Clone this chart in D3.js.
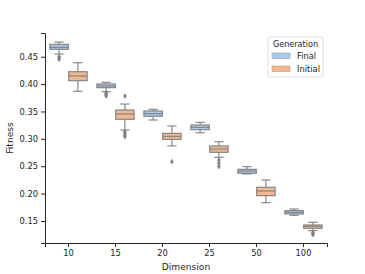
<!DOCTYPE html>
<html>
<head>
<meta charset="utf-8">
<script src="https://cdn.jsdelivr.net/npm/d3@7"></script>
<style>
  body { margin: 0; background: #fff; }
  svg { display: block; font-family: "DejaVu Sans", sans-serif; }
</style>
</head>
<body>
<svg id="chart" width="365" height="274"></svg>
<script>
const dims = ["10", "15", "20", "25", "50", "100"];
const generations = ["Final", "Initial"];
const yTicks = [0.15, 0.20, 0.25, 0.30, 0.35, 0.40, 0.45];

// box stats per dimension: lower whisker, q1, median, q3, upper whisker
const finalLow  = [0.4549, 0.3861, 0.3344, 0.3112, 0.2359, 0.1604];
const finalQ1   = [0.4635, 0.3934, 0.3412, 0.3167, 0.2371, 0.1628];
const finalMed  = [0.4672, 0.3965, 0.3459, 0.3211, 0.2413, 0.1659];
const finalQ3   = [0.4726, 0.4002, 0.3509, 0.3253, 0.2444, 0.1688];
const finalHigh = [0.4768, 0.4033, 0.3540, 0.3302, 0.2492, 0.1719];

const initialLow  = [0.3868, 0.3162, 0.2870, 0.2663, 0.1834, 0.1323];
const initialQ1   = [0.4062, 0.3357, 0.2991, 0.2754, 0.1962, 0.1366];
const initialMed  = [0.4148, 0.3454, 0.3046, 0.2815, 0.2048, 0.1403];
const initialQ3   = [0.4226, 0.3527, 0.3101, 0.2870, 0.2116, 0.1427];
const initialHigh = [0.4390, 0.3636, 0.3235, 0.2948, 0.2249, 0.1476];

// fliers per dimension
const finalOutliers = [
  [0.4500, 0.4476, 0.4453], [0.3840, 0.3820, 0.3800, 0.3782], [], [], [], []
];
const initialOutliers = [
  [], [0.3782, 0.3130, 0.3100, 0.3070, 0.3040], [0.2583], [0.2614, 0.2554, 0.2493], [], [0.1290, 0.1270, 0.1250]
];

const colors = { Final: "#acc9ea", Initial: "#efb792" };
const lineColor = "#7f7f7f";
const textColor = "#262626";

const boxes = [];
dims.forEach((d, i) => {
  boxes.push({ dim: d, gen: "Final", low: finalLow[i], q1: finalQ1[i], med: finalMed[i], q3: finalQ3[i], high: finalHigh[i], out: finalOutliers[i] });
  boxes.push({ dim: d, gen: "Initial", low: initialLow[i], q1: initialQ1[i], med: initialMed[i], q3: initialQ3[i], high: initialHigh[i], out: initialOutliers[i] });
});

const svg = d3.select("#chart");
const plotLeft = 45, plotRight = 327, plotTop = 33, plotBottom = 243;

const x = d3.scaleBand()
  .domain(dims)
  .range([plotLeft, plotRight])
  .paddingInner(0.2)
  .paddingOuter(0.1);

const x1 = d3.scaleBand()
  .domain(generations)
  .range([0, x.bandwidth()]);

const y = d3.scaleLinear()
  .domain([0.1098, 0.4933])
  .range([plotBottom, plotTop]);

// boxes
const g = svg.append("g");
const bw = x1.bandwidth() * 0.98;

boxes.forEach(b => {
  const cx = x(b.dim) + x1(b.gen) + x1.bandwidth() / 2;
  const grp = g.append("g");
  // whiskers
  grp.append("line").attr("x1", cx).attr("x2", cx).attr("y1", y(b.q3)).attr("y2", y(b.high))
    .attr("stroke", lineColor).attr("stroke-width", 1.1);
  grp.append("line").attr("x1", cx).attr("x2", cx).attr("y1", y(b.q1)).attr("y2", y(b.low))
    .attr("stroke", lineColor).attr("stroke-width", 1.1);
  // caps
  [b.low, b.high].forEach(v => {
    grp.append("line").attr("x1", cx - bw / 4).attr("x2", cx + bw / 4).attr("y1", y(v)).attr("y2", y(v))
      .attr("stroke", lineColor).attr("stroke-width", 1.1);
  });
  // box
  grp.append("rect")
    .attr("x", cx - bw / 2)
    .attr("width", bw)
    .attr("y", y(b.q3))
    .attr("height", y(b.q1) - y(b.q3))
    .attr("fill", colors[b.gen])
    .attr("stroke", lineColor)
    .attr("stroke-width", 1.1);
  // median
  grp.append("line").attr("x1", cx - bw / 2).attr("x2", cx + bw / 2).attr("y1", y(b.med)).attr("y2", y(b.med))
    .attr("stroke", lineColor).attr("stroke-width", 1.1);
  // fliers
  grp.selectAll("path.flier")
    .data(b.out)
    .enter()
    .append("path")
    .attr("d", "M0,-2.4L1.5,0L0,2.4L-1.5,0Z")
    .attr("transform", v => "translate(" + cx + "," + y(v) + ")")
    .attr("fill", lineColor)
    .attr("stroke", lineColor)
    .attr("stroke-width", 0.5);
});

// axes
const yAxis = svg.append("g")
  .attr("transform", "translate(" + plotLeft + ",0)")
  .call(d3.axisLeft(y).tickValues(yTicks).tickFormat(d3.format(".2f")).tickSizeOuter(0).tickSize(4).tickPadding(3));

const xAxis = svg.append("g")
  .attr("transform", "translate(0," + plotBottom + ")")
  .call(d3.axisBottom(x).tickSizeOuter(0).tickSize(4).tickPadding(3));

[xAxis, yAxis].forEach(a => {
  a.select(".domain").attr("stroke", textColor).attr("stroke-width", 1);
  a.selectAll(".tick line").attr("stroke", textColor).attr("stroke-width", 1);
  a.selectAll(".tick text").attr("fill", textColor).style("font-size", "8.3px").style("font-family", "DejaVu Sans");
});

svg.append("text")
  .attr("x", (plotLeft + plotRight) / 2)
  .attr("y", 270)
  .attr("text-anchor", "middle")
  .attr("fill", textColor)
  .style("font-size", "9.1px")
  .text("Dimension");

svg.append("text")
  .attr("transform", "translate(13," + (plotTop + plotBottom) / 2 + ") rotate(-90)")
  .attr("text-anchor", "middle")
  .attr("fill", textColor)
  .style("font-size", "9.1px")
  .text("Fitness");

// legend
const legend = svg.append("g").attr("transform", "translate(268,37)");
legend.append("rect")
  .attr("width", 55).attr("height", 40).attr("rx", 2)
  .attr("fill", "white").attr("fill-opacity", 0.8)
  .attr("stroke", "#d6d6d6").attr("stroke-width", 0.8);
legend.append("text")
  .attr("x", 27.5).attr("y", 10)
  .attr("text-anchor", "middle")
  .attr("fill", textColor)
  .style("font-size", "8.1px")
  .text("Generation");

legend.selectAll("g.item")
  .data(generations)
  .enter()
  .append("g")
  .attr("transform", (d, i) => "translate(4," + (16 + i * 13) + ")")
  .each(function (d) {
    const it = d3.select(this);
    it.append("rect").attr("width", 18).attr("height", 5.5)
      .attr("fill", colors[d]).attr("stroke", d3.color(colors[d]).darker(0.6)).attr("stroke-width", 0.6);
    it.append("text").attr("x", 25).attr("y", 6)
      .attr("fill", textColor)
      .style("font-size", "8.3px")
      .text(d);
  });
</script>
</body>
</html>
